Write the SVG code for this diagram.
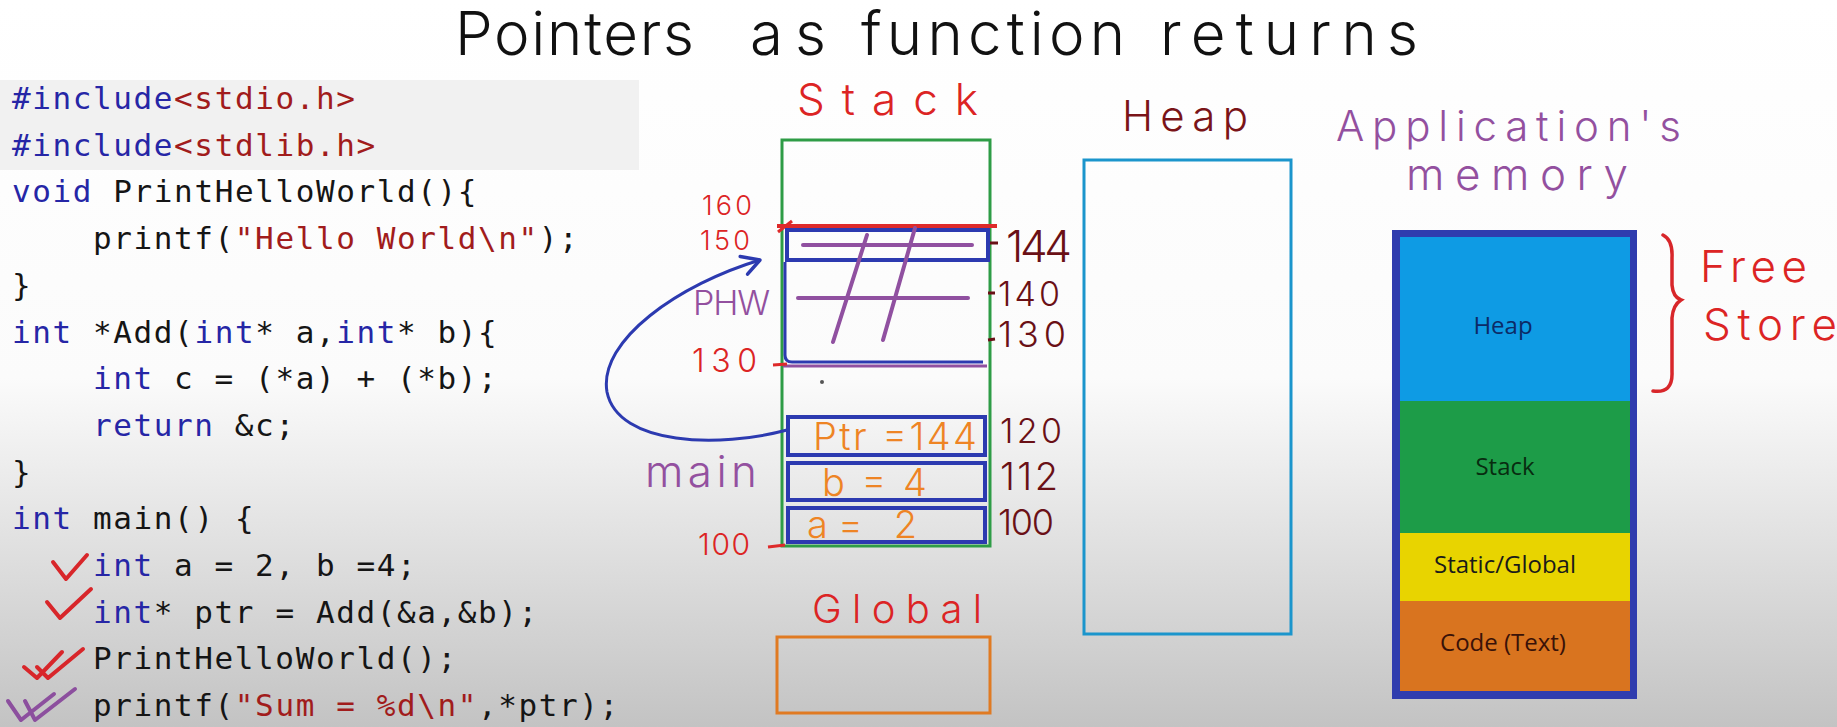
<svg xmlns="http://www.w3.org/2000/svg" width="1837" height="727" viewBox="0 0 1837 727">
<defs>
<linearGradient id="bg" x1="0" y1="0" x2="0" y2="727" gradientUnits="userSpaceOnUse">
<stop offset="0" stop-color="#ffffff"/>
<stop offset="0.52" stop-color="#fbfbfb"/>
<stop offset="1" stop-color="#c3c3c3"/>
</linearGradient>
<marker id="ah" markerUnits="userSpaceOnUse" markerWidth="26" markerHeight="26" viewBox="0 0 26 26" refX="22" refY="13" orient="auto">
<path d="M4,4 L22,13 L6,23" fill="none" stroke="#2c3ab0" stroke-width="3.5" stroke-linecap="round" stroke-linejoin="round"/>
</marker>
<style>
.code{font-family:"DejaVu Sans Mono","Liberation Mono",monospace;font-size:31px;letter-spacing:1.6px;fill:#151515}
.kw{fill:#2626a6}
.st{fill:#a11c1c}
.hand{font-family:"Inter","Liberation Sans",sans-serif;font-weight:300}
.red{fill:#dc2424}
.maroon{fill:#6a1016}
.purple{fill:#93509f}
.orange{fill:#ee8424}
.chk{fill:none;stroke:#d8262a;stroke-width:4;stroke-linecap:round;stroke-linejoin:round}
.chkp{fill:none;stroke:#8c4f9e;stroke-width:4;stroke-linecap:round;stroke-linejoin:round}
.frame{fill:none;stroke:#2c3ab0;stroke-width:4}
.pl{fill:none;stroke:#9050a0;stroke-width:4;stroke-linecap:round}
.seg{font-family:"Open Sans","Liberation Sans",sans-serif;font-size:24px;text-anchor:middle}
</style>
</defs>
<rect x="0" y="0" width="1837" height="727" fill="url(#bg)"/>

<g id="title">
<text class="hand" font-size="60" fill="#111" x="455" y="55" textLength="239" lengthAdjust="spacing">Pointers</text>
<text class="hand" font-size="60" fill="#111" x="750" y="55" textLength="76" lengthAdjust="spacing">as</text>
<text class="hand" font-size="60" fill="#111" x="861" y="55" textLength="264" lengthAdjust="spacing">function</text>
<text class="hand" font-size="60" fill="#111" x="1160" y="55" textLength="258" lengthAdjust="spacing">returns</text>
</g>

<g id="code">
<rect x="0" y="80" width="639" height="90" fill="#f1f1f1"/>
<text class="code" x="12" y="109"><tspan class="kw">#include</tspan><tspan class="st">&lt;stdio.h&gt;</tspan></text>
<text class="code" x="12" y="155.7"><tspan class="kw">#include</tspan><tspan class="st">&lt;stdlib.h&gt;</tspan></text>
<text class="code" x="12" y="202.4"><tspan class="kw">void</tspan> PrintHelloWorld(){</text>
<text class="code" x="93" y="249.1">printf(<tspan class="st">"Hello World\n"</tspan>);</text>
<text class="code" x="12" y="295.8">}</text>
<text class="code" x="12" y="342.5"><tspan class="kw">int</tspan> *Add(<tspan class="kw">int</tspan>* a,<tspan class="kw">int</tspan>* b){</text>
<text class="code" x="93" y="389.2"><tspan class="kw">int</tspan> c = (*a) + (*b);</text>
<text class="code" x="93" y="435.9"><tspan class="kw">return</tspan> &amp;c;</text>
<text class="code" x="12" y="482.6">}</text>
<text class="code" x="12" y="529.3"><tspan class="kw">int</tspan> main() {</text>
<text class="code" x="93" y="576"><tspan class="kw">int</tspan> a = 2, b =4;</text>
<text class="code" x="93" y="622.7"><tspan class="kw">int</tspan>* ptr = Add(&amp;a,&amp;b);</text>
<text class="code" x="93" y="669.4">PrintHelloWorld();</text>
<text class="code" x="93" y="716.1">printf(<tspan class="st">"Sum = %d\n"</tspan>,*ptr);</text>
<path class="chk" d="M53,562 L66,579 L87,555"/>
<path class="chk" d="M47,602 L60,618 L91,589"/>
<path class="chk" d="M24,667 L37,678 L62,652 M37,667 L48,678 L83,649"/>
<path class="chkp" d="M8,701 L21,720 L54,694 M25,701 L35,720 L75,689"/>
</g>

<g id="stack">
<text class="hand red" font-size="44" x="797" y="115" textLength="181" lengthAdjust="spacing">Stack</text>
<rect x="782" y="140" width="208" height="406" fill="none" stroke="#2e9c46" stroke-width="3"/>
<line x1="777" y1="226" x2="997" y2="226" stroke="#de2a2a" stroke-width="4"/>
<path d="M778,232 L792,221" stroke="#de2a2a" stroke-width="3" fill="none"/>
<text class="hand red" font-size="27" x="702" y="215" textLength="50" lengthAdjust="spacing">160</text>
<text class="hand red" font-size="27" x="700" y="250" textLength="50" lengthAdjust="spacing">150</text>
<rect class="frame" x="787" y="230" width="201" height="30"/>
<line class="pl" x1="803" y1="245" x2="972" y2="245"/>
<line class="pl" x1="798" y1="298" x2="968" y2="298"/>
<line class="pl" x1="867" y1="235" x2="833" y2="342"/>
<line class="pl" x1="915" y1="228" x2="883" y2="340"/>
<path d="M785,262 L785,355 Q785,362 792,362 L983,362" fill="none" stroke="#2c3ab0" stroke-width="3"/>
<line x1="783" y1="366" x2="987" y2="366" stroke="#9050a0" stroke-width="3"/>
<text class="hand purple" font-size="34" x="693" y="315" textLength="77" lengthAdjust="spacing">PHW</text>
<text class="hand red" font-size="32" x="692" y="372" textLength="65" lengthAdjust="spacing">130</text>
<line x1="773" y1="365" x2="787" y2="364" stroke="#de2a2a" stroke-width="3"/>
<circle cx="822" cy="382" r="2" fill="#555"/>
<line x1="990" y1="243" x2="998" y2="243" stroke="#6a1016" stroke-width="3"/>
<text class="hand maroon" font-size="44" x="1006" y="262" textLength="66" lengthAdjust="spacing">144</text>
<line x1="988" y1="293" x2="995" y2="293" stroke="#6a1016" stroke-width="3"/>
<text class="hand maroon" font-size="34" x="998" y="306" textLength="62" lengthAdjust="spacing">140</text>
<line x1="988" y1="340" x2="995" y2="339" stroke="#6a1016" stroke-width="3"/>
<text class="hand maroon" font-size="36" x="998" y="347" textLength="68" lengthAdjust="spacing">130</text>
<rect class="frame" x="788" y="417" width="197" height="38"/>
<rect class="frame" x="788" y="463" width="197" height="37"/>
<rect class="frame" x="788" y="508" width="197" height="34"/>
<text class="hand orange" font-size="38" x="813" y="450" textLength="164" lengthAdjust="spacing">Ptr =144</text>
<text class="hand orange" font-size="38" x="822" y="496" textLength="105" lengthAdjust="spacing">b = 4</text>
<text class="hand orange" font-size="38" x="807" y="538" textLength="110" lengthAdjust="spacing">a= 2</text>
<text class="hand purple" font-size="44" x="645" y="487" textLength="112" lengthAdjust="spacing">main</text>
<text class="hand maroon" font-size="34" x="1000" y="443" textLength="62" lengthAdjust="spacing">120</text>
<text class="hand maroon" font-size="38" x="1000" y="490" textLength="58" lengthAdjust="spacing">112</text>
<text class="hand maroon" font-size="36" x="998" y="535" textLength="56" lengthAdjust="spacing">100</text>
<text class="hand red" font-size="30" x="698" y="555" textLength="52" lengthAdjust="spacing">100</text>
<line x1="768" y1="547" x2="785" y2="545" stroke="#de2a2a" stroke-width="3"/>
</g>

<g id="global">
<text class="hand red" font-size="40" x="812" y="623" textLength="170" lengthAdjust="spacing">Global</text>
<rect x="777" y="637" width="213" height="76" fill="none" stroke="#e07a22" stroke-width="3"/>
</g>

<g id="heap">
<text class="hand" fill="#7a1418" font-size="42" x="1122" y="131" textLength="126" lengthAdjust="spacing">Heap</text>
<rect x="1084" y="160" width="207" height="474" fill="none" stroke="#1b95cc" stroke-width="3"/>
</g>

<g id="app-memory">
<text class="hand purple" font-size="42" x="1336" y="141" textLength="345" lengthAdjust="spacing">Application's</text>
<text class="hand purple" font-size="44" x="1406" y="190" textLength="222" lengthAdjust="spacing">memory</text>
<rect x="1392" y="230" width="245" height="469" fill="#2f3cae"/>
<rect x="1400" y="237" width="230" height="164" fill="#0e9be4"/>
<rect x="1400" y="401" width="230" height="132" fill="#1d9c48"/>
<rect x="1400" y="533" width="230" height="68" fill="#e8d400"/>
<rect x="1400" y="601" width="230" height="90" fill="#d9741f"/>
<text class="seg" x="1503" y="334" fill="#0c2a66">Heap</text>
<text class="seg" x="1505" y="475" fill="#082c10">Stack</text>
<text class="seg" x="1505" y="573" fill="#1a1a1a">Static/Global</text>
<text class="seg" x="1503" y="651" fill="#3a1208">Code (Text)</text>
<path d="M1663,235 Q1673,240 1672,258 L1672,285 Q1673,297 1681,300 Q1673,305 1672,318 L1672,372 Q1673,394 1653,391" fill="none" stroke="#d8262a" stroke-width="3.5" stroke-linecap="round"/>
<text class="hand red" font-size="44" x="1700" y="282" textLength="107" lengthAdjust="spacing">Free</text>
<text class="hand red" font-size="44" x="1703" y="340" textLength="134" lengthAdjust="spacing">Store</text>
</g>

<g id="connectors">
<path d="M787,430 C720,448 618,446 607,392 C598,340 680,284 760,260" fill="none" stroke="#2c3ab0" stroke-width="3" marker-end="url(#ah)"/>
</g>
</svg>
